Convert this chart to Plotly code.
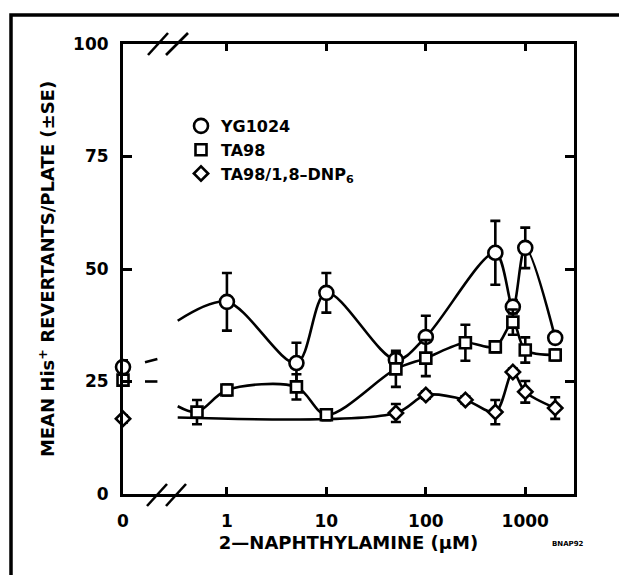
import plotly.graph_objects as go

# ---------------- data ----------------
ZERO_POS = 0.0902          # where the "0" dose sits on the broken log axis

yg_dose = [0, 1, 5, 10, 50, 100, 500, 750, 1000, 2000]
yg_mean = [28.2, 42.7, 29.1, 44.7, 29.8, 34.9, 53.6, 41.6, 54.7, 34.7]
yg_se   = [1.5, 6.4, 4.5, 4.4, 1.5, 4.7, 7.1, 1.5, 4.5, 1.0]

ta_dose = [0, 0.5, 1, 5, 10, 50, 100, 250, 500, 750, 1000, 2000]
ta_mean = [25.3, 18.2, 23.1, 23.8, 17.6, 27.8, 30.2, 33.6, 32.7, 38.2, 32.0, 30.9]
ta_se   = [1.2, 2.7, 1.2, 2.8, 1.2, 4.0, 4.0, 4.0, 1.2, 2.8, 2.8, 1.2]

dnp_dose = [0, 50, 100, 250, 500, 750, 1000, 2000]
dnp_mean = [16.7, 18.0, 22.0, 20.9, 18.2, 27.1, 22.7, 19.1]
dnp_se   = [0.8, 2.0, 0.8, 0.8, 2.7, 0.8, 2.4, 2.4]

# hand-drawn fitted curves: start of each curve right of the axis break
curve_start_dose = 0.32
yg_curve_start = 38.5
ta_curve_start = 19.5
dnp_curve_start = 17.0

# short stubs drawn just right of the zero-dose points
stub_dose = [0.15, 0.2]
yg_stub = [29.3, 30.0]
ta_stub = [25.0, 25.0]

x_tickvals = [ZERO_POS, 1, 10, 100, 1000]
x_ticktext = ["0", "1", "10", "100", "1000"]
y_tickvals = [0, 25, 50, 75, 100]

series_names = ["YG1024", "TA98", "TA98/1,8\u2013DNP<sub>6</sub>"]

# ---------------- figure ----------------
FONT = dict(family="DejaVu Sans", size=17, color="black", weight="bold")
TFONT = dict(family="DejaVu Sans", size=18, color="black", weight="bold")
LW = 2.6


def xpos(doses):
    return [ZERO_POS if d == 0 else d for d in doses]


fig = go.Figure()

# fitted curves (drawn first so that open markers hide them)
for sd, sv, dose, mean in [
    (curve_start_dose, yg_curve_start, yg_dose, yg_mean),
    (curve_start_dose, ta_curve_start, ta_dose, ta_mean),
    (curve_start_dose, dnp_curve_start, dnp_dose, dnp_mean),
]:
    xs = [sd] + [d for d in dose if d > sd]
    ys = [sv] + [m for d, m in zip(dose, mean) if d > sd]
    fig.add_trace(go.Scatter(x=xs, y=ys, mode="lines",
                             line=dict(color="black", width=LW, shape="spline", smoothing=0.9),
                             showlegend=False, hoverinfo="skip"))

for sy in (yg_stub, ta_stub):
    fig.add_trace(go.Scatter(x=stub_dose, y=sy, mode="lines",
                             line=dict(color="black", width=LW),
                             showlegend=False, hoverinfo="skip"))

# markers with error bars
for name, dose, mean, se, sym, size in [
    (series_names[0], yg_dose, yg_mean, yg_se, "circle", 14),
    (series_names[1], ta_dose, ta_mean, ta_se, "square", 11),
    (series_names[2], dnp_dose, dnp_mean, dnp_se, "diamond", 11),
]:
    fig.add_trace(go.Scatter(
        x=xpos(dose), y=mean, name=name, mode="markers", cliponaxis=False,
        marker=dict(symbol=sym, size=size, color="white",
                    line=dict(color="black", width=LW)),
        error_y=dict(type="data", array=se, visible=True, color="black",
                     thickness=LW, width=5),
    ))

# ---------------- layout ----------------
L, R, T, B = 123, 45, 44, 81
W, H = 619, 575
PW, PH = W - L - R, H - T - B


def px(x):
    return (x - L) / PW


def py(y):
    return (H - B - y) / PH


shapes = []
# axis-break slashes (top and bottom)
for (x0, y0, x1, y1) in [(148, 55, 168, 33), (166, 55, 188, 33),
                         (147, 506, 167, 484), (166, 506, 186, 484)]:
    shapes.append(dict(type="line", xref="paper", yref="paper",
                       x0=px(x0), y0=py(y0), x1=px(x1), y1=py(y1),
                       line=dict(color="black", width=LW)))
# outer frame of the figure panel
shapes.append(dict(type="rect", xref="paper", yref="paper",
                   x0=px(11), y0=py(590), x1=px(640), y1=py(15),
                   line=dict(color="black", width=3.5)))

fig.update_layout(
    width=W, height=H,
    margin=dict(l=L, r=R, t=T, b=B),
    paper_bgcolor="white", plot_bgcolor="white",
    font=FONT,
    showlegend=True,
    legend=dict(x=px(181), y=py(109), xanchor="left", yanchor="top",
                bgcolor="rgba(0,0,0,0)",
                font=dict(family="DejaVu Sans", size=16, color="black", weight="bold"),
                itemwidth=30, tracegroupgap=0),
    shapes=shapes,
    annotations=[dict(text="BNAP92", xref="paper", yref="paper",
                      x=px(586), y=py(550), showarrow=False,
                      font=dict(family="DejaVu Sans", size=7, color="black", weight="bold"))],
)

fig.update_xaxes(
    type="log", range=[-1.045, 3.49],
    tickvals=x_tickvals, ticktext=x_ticktext,
    ticks="inside", ticklen=7, tickwidth=LW, tickcolor="black",
    showline=True, linecolor="black", linewidth=3, mirror="ticks",
    showgrid=False, zeroline=False, ticklabelstandoff=10,
    title=dict(text="2\u2014NAPHTHYLAMINE (\u03bcM)", font=TFONT, standoff=6),
)
fig.update_yaxes(
    range=[0, 100], tickvals=y_tickvals,
    ticks="inside", ticklen=9, tickwidth=LW, tickcolor="black",
    showline=True, linecolor="black", linewidth=3, mirror="ticks",
    showgrid=False, zeroline=False, ticklabelstandoff=8,
    title=dict(text="MEAN His<sup>+</sup> REVERTANTS/PLATE (\u00b1SE)", font=TFONT, standoff=14),
)

fig.write_html("out.html")
